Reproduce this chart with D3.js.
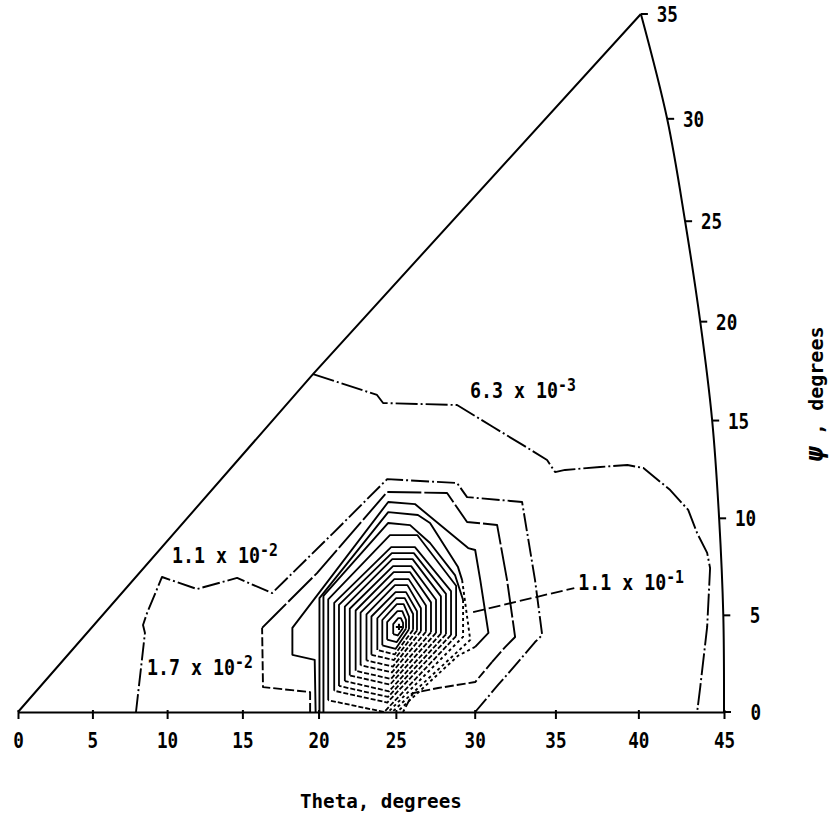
<!DOCTYPE html>
<html><head><meta charset="utf-8">
<script src="https://cdn.jsdelivr.net/npm/d3@7"></script>
<style>html,body{margin:0;padding:0;background:#fff;} svg{display:block;}</style>
</head><body><svg id="chart" width="829" height="815"></svg>
<script>
// ---------- data (degrees) ----------
const thetaTicks = [0,5,10,15,20,25,30,35,40,45];
const psiTicks = [0,5,10,15,20,25,30,35];
// theta of the curved right boundary at each psi tick
const edgeTheta = [45.0,44.96,44.72,44.32,43.63,42.75,41.70,40.15];
const hypTheta = [0,19.64,40.15];
const hypPsi = [0,17.36,35];

const c63Theta = [19.64,23.79,24.18,28.89,31.15,33.01,34.49,34.98,35.59,37.71,39.35,40.30,41.88,42.93,43.45,44.03,44.20,44.03,43.63,43.45];
const c63Psi   = [17.36,16.30,15.89,15.79,14.67,13.75,12.99,12.37,12.48,12.63,12.73,12.58,11.45,10.43,9.24,8.22,7.44,4.40,1.29,0];

const c11Theta = [7.92,8.52,8.39,8.66,9.66,11.99,14.65,16.96,20.95,24.44,28.89,29.52,32.95,33.75,34.19,33.75,32.71,31.46,30.03];
const c11Psi   = [0,4.09,4.50,5.12,6.98,6.36,6.93,6.15,9.24,12.01,11.81,11.09,10.84,6.82,3.98,3.62,2.59,1.40,0];

const c17Theta = [19.45,19.45,16.36,16.30,17.15,19.90,24.44,28.26,29.52,31.40,32.02,32.52,31.90,31.09,30.03,27.69,26.10,25.46];
const c17Psi   = [0,1.03,1.29,4.35,5.02,7.18,11.35,11.30,9.81,9.66,6.82,3.88,3.36,2.59,1.55,1.24,0.98,0];

// open inner contours (end on psi = 0)
const openTheta = [
  [19.81,19.75,18.29,18.29,24.51,26.22,29.59,30.03,30.35,30.86,30.03,28.95,25.08],
  [20.06,20.06,24.51,26.41,27.18,28.95,29.21,29.72,24.76],
  [20.32,20.32,24.51,25.91,27.18,28.76,29.27,29.27,24.51]
];
const openPsi = [
  [0,2.70,2.96,4.35,10.84,10.73,8.47,8.37,6.82,4.09,3.37,2.91,0],
  [0,5.89,10.32,10.17,9.76,7.49,6.82,3.73,0],
  [0,6.00,9.76,9.65,8.73,7.08,5.79,3.89,0]
];
// closed inner contours, innermost first
// vertex order: top-left, top-right, right-upper, right-lower, bottom, left-lower, left-upper
const ringTheta = [
  [25.15,25.32,25.46,25.46,25.12,24.83,24.83],
  [25.10,25.41,25.65,25.65,25.06,24.44,24.44],
  [25.06,25.50,25.84,25.84,24.99,24.13,24.13],
  [25.02,25.57,26.10,26.10,24.93,23.81,23.81],
  [24.98,25.65,26.35,26.35,24.88,23.43,23.43],
  [24.94,25.74,26.60,26.60,24.81,23.11,23.11],
  [24.90,25.82,26.92,26.92,24.75,22.73,22.73],
  [24.86,25.91,27.24,27.24,24.69,22.41,22.41],
  [24.82,25.98,27.56,27.56,24.63,22.03,22.03],
  [24.77,26.07,27.87,27.87,24.56,21.71,21.71],
  [24.74,26.15,28.19,28.19,24.50,21.33,21.33],
  [24.70,26.22,28.51,28.51,24.45,21.02,21.02],
  [24.62,26.37,28.83,28.83,24.25,20.63,20.63]
];
const ringPsi = [
  [4.86,4.86,4.61,4.35,3.96,4.03,4.55],
  [5.22,5.22,4.77,4.32,3.62,3.74,4.65],
  [5.58,5.58,4.93,4.28,3.27,3.45,4.76],
  [5.89,5.89,5.07,4.25,2.98,3.21,4.85],
  [6.20,6.20,5.21,4.22,2.69,2.96,4.94],
  [6.56,6.56,5.37,4.18,2.35,2.67,5.05],
  [6.87,6.87,5.51,4.15,2.05,2.42,5.14],
  [7.23,7.23,5.67,4.12,1.71,2.13,5.25],
  [7.54,7.54,5.81,4.09,1.42,1.89,5.34],
  [7.90,7.90,5.98,4.05,1.07,1.60,5.45],
  [8.21,8.21,6.11,4.02,0.78,1.35,5.54],
  [8.52,8.52,6.25,3.99,0.49,1.10,5.64],
  [9.14,9.14,6.53,3.93,0,0.61,5.82]
];
const peakTheta = [25.2];
const peakPsi = [4.4];

// contour labels: text, exponent, anchor (theta, psi)
const labelText = ["6.3 x 10","1.1 x 10","1.7 x 10","1.1 x 10"];
const labelExp  = ["-3","-2","-2","-1"];
const labelTheta = [29.71,10.33,8.66,36.39];
const labelPsi   = [16.14,7.70,1.91,6.31];
const leaderTheta = [29.90,36.15];
const leaderPsi   = [5.17,6.41];

// ---------- scales (stereographic: tan of half angle) ----------
const DEG = Math.PI/180;
const th2 = d => Math.tan(d*DEG/2);
const xScale = d3.scaleLinear().domain([0, th2(45)]).range([18, 724]);
const yScale = d3.scaleLinear().domain([0, th2(35)]).range([712, 14]);
const px = d => xScale(th2(d));
const py = d => yScale(th2(d));

const svg = d3.select("#chart");
const FONT = "'DejaVu Sans Mono', 'Liberation Mono', monospace";
const zip = (a,b) => a.map((v,i)=>[v,b[i]]);
const line = d3.line().x(d=>px(d[0])).y(d=>py(d[1]));

// ---------- frame ----------
svg.append("path").attr("d", line(zip(hypTheta,hypPsi)))
  .attr("fill","none").attr("stroke","#000").attr("stroke-width",2);
const edgeLine = d3.line().x(d=>px(d[0])).y(d=>py(d[1])).curve(d3.curveCatmullRom);
svg.append("path").attr("d", edgeLine(zip(edgeTheta,psiTicks)))
  .attr("fill","none").attr("stroke","#000").attr("stroke-width",2);

// bottom axis (theta)
const xAxis = d3.axisBottom(xScale)
  .tickValues(thetaTicks.map(th2))
  .tickFormat((d,i)=>thetaTicks[i])
  .tickSizeInner(7).tickSizeOuter(0).tickPadding(13);
const gx = svg.append("g").attr("transform","translate(0,712)").call(xAxis);
gx.select(".domain").attr("stroke","#000").attr("stroke-width",2.2);
gx.selectAll(".tick line").attr("stroke","#000").attr("stroke-width",2).attr("y1",-2);
gx.selectAll(".tick text").attr("font-family",FONT).attr("font-weight","bold")
  .attr("font-size",22).attr("fill","#000").attr("transform","scale(0.8,1)");

// right (psi) ticks on curved edge
psiTicks.forEach((p,i)=>{
  const x0 = px(edgeTheta[i]), y0 = py(p);
  svg.append("line").attr("x1",x0).attr("y1",y0).attr("x2",x0+7).attr("y2",y0)
    .attr("stroke","#000").attr("stroke-width",2);
  svg.append("g").attr("transform",`translate(${x0+37},${y0+8})`)
    .append("text").attr("text-anchor","end").attr("transform","scale(0.8,1)")
    .attr("font-family",FONT).attr("font-weight","bold").attr("font-size",22)
    .text(p);
});

// ---------- contours ----------
function drawPts(pts, dash, w){
  svg.append("path").attr("d", line(pts)).attr("fill","none").attr("stroke","#000")
    .attr("stroke-width", w||1.9).attr("stroke-linejoin","round")
    .attr("stroke-dasharray", dash||null);
}
drawPts(zip(c63Theta,c63Psi), "22,3,2,3");
drawPts(zip(c11Theta,c11Psi), "18,3,2,3");
const b = zip(c17Theta,c17Psi);
drawPts(b.slice(0,4), "9,3");
drawPts(b.slice(3,14), "34,3");
drawPts(b.slice(13), "9,3");
openTheta.forEach((t,i)=>{
  const p = zip(t,openPsi[i]);
  const n = p.length;
  drawPts(p.slice(0,n-2), null, 1.9);
  drawPts(p.slice(n-3), "3,3", 1.9);
});
ringTheta.forEach((t,i)=>{
  const p = zip(t,ringPsi[i]);
  // upper/left part solid, lower-right part broken (as in the printout)
  drawPts([p[5],p[6],p[0],p[1],p[2],p[3]], null, 1.8);
  drawPts([p[3],p[4],p[5]], i < 3 ? null : "5,2", 1.8);
});

// peak marker
svg.selectAll(".peak").data(zip(peakTheta,peakPsi)).enter().append("path")
  .attr("transform", d=>`translate(${px(d[0])},${py(d[1])})`)
  .attr("d", d3.symbol().type(d3.symbolCross).size(22)).attr("fill","#000");

// leader line for 1.1 x 10^-1
drawPts(zip(leaderTheta,leaderPsi), "12,4", 1.8);

// contour labels
labelText.forEach((t,i)=>{
  const g = svg.append("g").attr("transform",`translate(${px(labelTheta[i])},${py(labelPsi[i])})`);
  const tx = g.append("text").attr("transform","scale(0.87,1)")
    .attr("font-family",FONT).attr("font-weight","bold").attr("font-size",21).attr("fill","#000");
  tx.append("tspan").text(t);
  tx.append("tspan").attr("font-size",17).attr("dy",-7).text(labelExp[i]);
});

// ---------- axis titles ----------
svg.append("g").attr("transform","translate(300,808)").append("text")
  .attr("transform","scale(0.96,1)")
  .attr("font-family",FONT).attr("font-weight","bold").attr("font-size",20)
  .text("Theta, degrees");

const yt = svg.append("text").attr("transform","translate(823,462) rotate(-90)")
  .attr("font-family",FONT).attr("font-weight","bold").attr("font-size",20);
yt.append("tspan").attr("font-size",25).attr("font-style","italic").text("ψ");
yt.append("tspan").text(" , degrees");
</script></body></html>
